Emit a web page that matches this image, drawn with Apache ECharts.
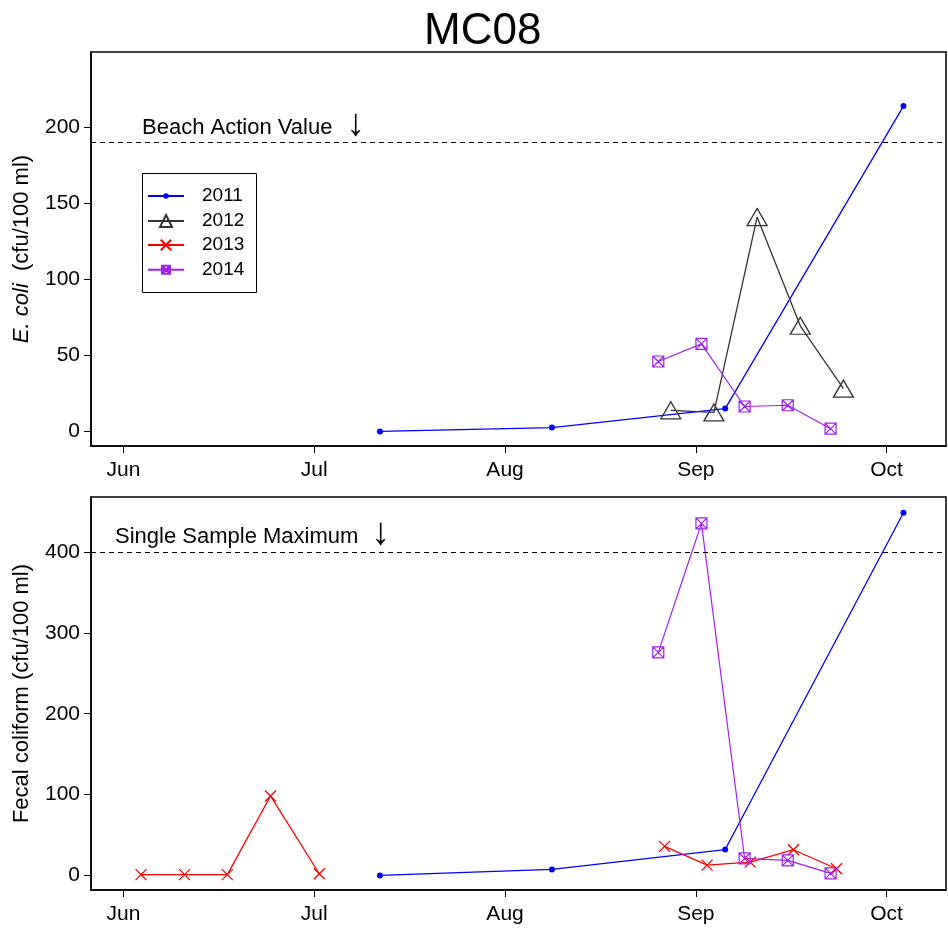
<!DOCTYPE html>
<html>
<head>
<meta charset="utf-8">
<script src="https://cdn.jsdelivr.net/npm/echarts@6/dist/echarts.min.js"></script>
<style>html,body{margin:0;padding:0;background:#fff}#c{width:948px;height:932px}</style>
</head>
<body>
<div id="c"></div>
<script>
// ---- data (x = day of year) ----
const monthTicks = [152, 182.5, 213, 243.5, 274];
const monthLabels = ['Jun', 'Jul', 'Aug', 'Sep', 'Oct'];
const yTicksTop = [0, 50, 100, 150, 200];
const yTicksBottom = [0, 100, 200, 300, 400];
const beachActionValue = 190;
const singleSampleMax = 400;
const years = ['2011', '2012', '2013', '2014'];

const days2011 = [193, 220.5, 248.2, 276.7];
const ecoli2011 = [0, 2.5, 15, 214];
const fecal2011 = [0, 7.4, 32, 448.6];

const days2012 = [239.5, 246.4, 253.3, 260.2, 267.1];
const ecoli2012 = [13.9, 12.5, 141, 69.5, 28.1];

const days2013a = [154.8, 161.75, 168.6, 175.5, 183.3];
const fecal2013a = [1, 1, 1, 98.3, 2.1];
const days2013b = [238.5, 245.3, 252.2, 259.1, 266.0];
const fecal2013b = [35.9, 12.8, 16.5, 31.8, 8.3];

const days2014 = [237.5, 244.4, 251.3, 258.2, 265.05];
const ecoli2014 = [46, 57.6, 16.4, 17.2, 1.8];
const fecal2014 = [275.9, 435.3, 21, 18.6, 2.5];

const pairs = (xs, ys) => xs.map((x, i) => [x, ys[i]]);

const FONT = "'Liberation Sans', Arial, Helvetica, sans-serif";
const C2011 = '#0000FF', C2012 = '#333333', C2013 = '#FF0000', C2014 = '#A020F0';
const SYM_X = 'path://M0,0L10,10M10,0L0,10';
const SYM_SQX = 'path://M0,0L10,0L10,10L0,10ZM0,0L10,10M10,0L0,10';

function xAxis(gridIndex) {
  return {
    type: 'value', gridIndex, min: 146.8, max: 283.5,
    axisLine: { show: true, onZero: false, lineStyle: { color: '#000', width: 1.5 } },
    axisTick: { show: true, length: 7, lineStyle: { color: '#000', width: 1 }, customValues: monthTicks },
    axisLabel: { customValues: monthTicks, margin: 14, color: '#000', fontSize: 21, fontFamily: FONT,
      formatter: v => { const i = monthTicks.findIndex(t => Math.abs(t - v) < 0.01); return i >= 0 ? monthLabels[i] : ''; } },
    splitLine: { show: false }
  };
}
function yAxis(gridIndex, min, max, ticks, name) {
  return {
    type: 'value', gridIndex, min, max,
    name, nameLocation: 'middle', nameGap: 58,
    nameTextStyle: { color: '#000', fontSize: 22, fontFamily: FONT,
      rich: { i: { fontStyle: 'italic', fontSize: 22, fontFamily: FONT, color: '#000' } } },
    axisLine: { show: true, onZero: false, lineStyle: { color: '#000', width: 1.5 } },
    axisTick: { show: true, length: 7, lineStyle: { color: '#000', width: 1 }, customValues: ticks },
    axisLabel: { customValues: ticks, margin: 11, color: '#000', fontSize: 21, fontFamily: FONT },
    splitLine: { show: false }
  };
}
const dashLine = (v) => ({
  silent: true, symbol: 'none', label: { show: false },
  lineStyle: { type: [5, 4], color: '#000', width: 1.2 },
  data: [{ yAxis: v }]
});

// one legend per entry so each marker can have its own size
const legendRowTops = [186.5, 211.5, 235.5, 260.2];
const legendIconHeights = [7, 15, 13, 10];
const legends = years.map((y, i) => ({
  data: [y], orient: 'vertical', left: 147, top: legendRowTops[i],
  padding: 0, itemWidth: 36, itemHeight: legendIconHeights[i], selectedMode: false,
  textStyle: { fontSize: 19, fontFamily: FONT, color: '#000', lineHeight: 19, padding: [0, 0, 0, 13] }
}));

const option = {
  animation: false,
  backgroundColor: '#fff',
  title: { text: 'MC08', left: 419, top: 5,
    textStyle: { fontSize: 44, fontWeight: 'normal', color: '#000', fontFamily: FONT } },
  grid: [
    { left: 91, right: 2, top: 52, height: 394, show: true, borderColor: '#000', borderWidth: 1.5, backgroundColor: 'transparent' },
    { left: 91, right: 2, top: 497, height: 393, show: true, borderColor: '#000', borderWidth: 1.5, backgroundColor: 'transparent' }
  ],
  xAxis: [xAxis(0), xAxis(1)],
  yAxis: [
    yAxis(0, -9.6, 249.6, yTicksTop, '{i|E. coli}  (cfu/100 ml)'),
    yAxis(1, -18, 468, yTicksBottom, 'Fecal coliform (cfu/100 ml)')
  ],
  legend: legends,
  graphic: [
    { type: 'rect', shape: { x: 142.5, y: 173.5, width: 114, height: 119 }, style: { fill: 'none', stroke: '#000', lineWidth: 1 }, z: 100 },
    { type: 'text', left: 142, top: 117, style: { text: 'Beach Action Value', fontSize: 22, fontFamily: FONT, fill: '#000' } },
    { type: 'text', left: 346, top: 106, style: { text: '\u2193', fontSize: 38, fontFamily: FONT, fill: '#000' } },
    { type: 'text', left: 115, top: 526, style: { text: 'Single Sample Maximum', fontSize: 22, fontFamily: FONT, fill: '#000' } },
    { type: 'text', left: 371, top: 515, style: { text: '\u2193', fontSize: 38, fontFamily: FONT, fill: '#000' } }
  ],
  series: [
    { name: '2011', type: 'line', xAxisIndex: 0, yAxisIndex: 0, data: pairs(days2011, ecoli2011),
      symbol: 'circle', symbolSize: 6, itemStyle: { color: C2011 }, lineStyle: { color: C2011, width: 1.3 },
      markLine: dashLine(beachActionValue) },
    { name: '2012', type: 'line', xAxisIndex: 0, yAxisIndex: 0, data: pairs(days2012, ecoli2012),
      symbol: 'triangle', symbolSize: [20, 17],
      itemStyle: { color: 'rgba(0,0,0,0)', borderColor: C2012, borderWidth: 1.3 },
      lineStyle: { color: C2012, width: 1.3 } },
    { name: '2014', type: 'line', xAxisIndex: 0, yAxisIndex: 0, data: pairs(days2014, ecoli2014),
      symbol: SYM_SQX, symbolSize: 11,
      itemStyle: { color: 'rgba(0,0,0,0)', borderColor: C2014, borderWidth: 1.2 },
      lineStyle: { color: C2014, width: 1.2 } },

    { name: '2011', type: 'line', xAxisIndex: 1, yAxisIndex: 1, data: pairs(days2011, fecal2011),
      symbol: 'circle', symbolSize: 6, itemStyle: { color: C2011 }, lineStyle: { color: C2011, width: 1.3 },
      markLine: dashLine(singleSampleMax) },
    { name: '2013', type: 'line', xAxisIndex: 1, yAxisIndex: 1,
      data: pairs(days2013a, fecal2013a).concat([[210, null]]).concat(pairs(days2013b, fecal2013b)),
      connectNulls: false,
      symbol: SYM_X, symbolSize: 11,
      itemStyle: { color: 'rgba(0,0,0,0)', borderColor: C2013, borderWidth: 1.3 },
      lineStyle: { color: C2013, width: 1.3 } },
    { name: '2014', type: 'line', xAxisIndex: 1, yAxisIndex: 1, data: pairs(days2014, fecal2014),
      symbol: SYM_SQX, symbolSize: 11,
      itemStyle: { color: 'rgba(0,0,0,0)', borderColor: C2014, borderWidth: 1.2 },
      lineStyle: { color: C2014, width: 1.2 } }
  ]
};
const chart = echarts.init(document.getElementById('c'), null, { renderer: 'canvas' });
chart.setOption(option);
</script>
</body>
</html>
